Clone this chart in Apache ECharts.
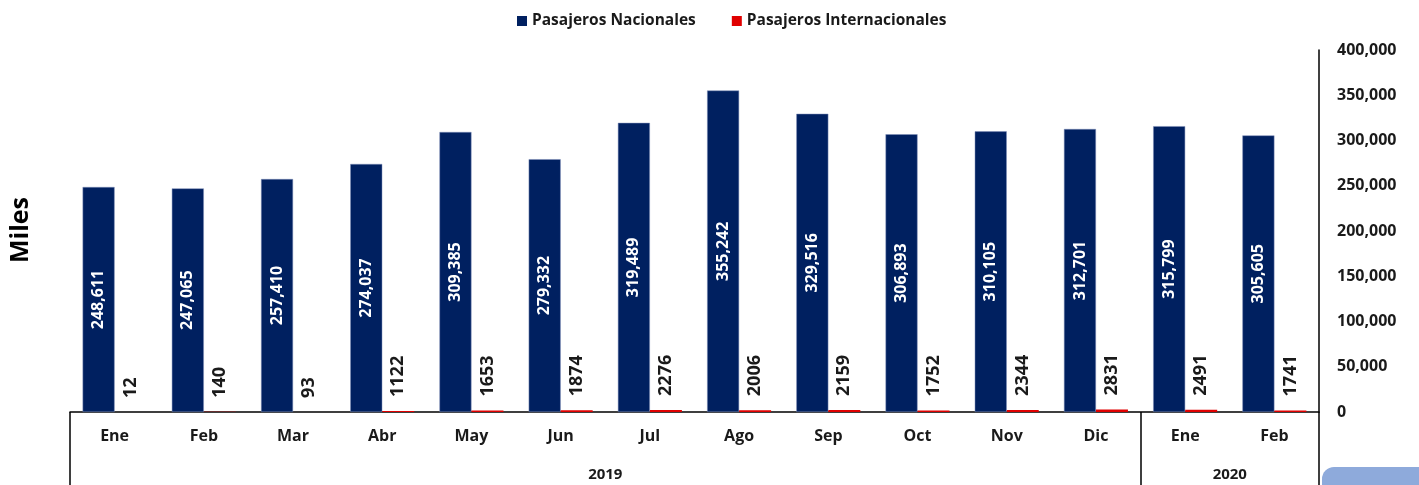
<!DOCTYPE html>
<html>
<head>
<meta charset="utf-8">
<script src="https://cdn.jsdelivr.net/npm/echarts@6/dist/echarts.min.js"></script>
<style>
html, body { margin: 0; padding: 0; background: #fff; }
#chart { width: 1419px; height: 485px; }
</style>
</head>
<body>
<div id="chart"></div>
<script>
// meses y valores
const meses = ['Ene', 'Feb', 'Mar', 'Abr', 'May', 'Jun', 'Jul', 'Ago', 'Sep', 'Oct', 'Nov', 'Dic', 'Ene', 'Feb'];
const nacionales = [248611, 247065, 257410, 274037, 309385, 279332, 319489, 355242, 329516, 306893, 310105, 312701, 315799, 305605];
const internacionales = [12, 140, 93, 1122, 1653, 1874, 2276, 2006, 2159, 1752, 2344, 2831, 2491, 1741];
// grupos de años: posición del centro (en meses) y límites
const anios = ['2019', '2020'];
const aniosCentro = [6, 13];
const aniosLimites = [0, 12, 14];

const fuente = '"Open Sans", Lato, sans-serif';
const negro = '#1a1a1a';

let myChart = echarts.init(document.getElementById('chart'));

let option = {
    animation: false,
    legend: {
        top: 8,
        left: 512,
        itemWidth: 10,
        itemHeight: 10,
        itemGap: 36,
        icon: 'rect',
        itemStyle: { borderWidth: 0 },
        textStyle: { fontFamily: fuente, fontWeight: 'bold', fontSize: 15.5, color: negro }
    },
    grid: { left: 70, right: 100, top: 50, bottom: 73, containLabel: false },
    xAxis: [
        {
            type: 'category',
            data: meses,
            axisLine: { show: true, lineStyle: { color: '#000', width: 1.5 } },
            axisTick: { show: false },
            axisLabel: { margin: 16, fontFamily: fuente, fontWeight: 'bold', fontSize: 16, color: negro }
        },
        {
            // eje auxiliar para los años
            type: 'value',
            min: 0,
            max: 14,
            position: 'bottom',
            axisLine: { show: false },
            splitLine: { show: false },
            axisTick: { show: true, customValues: aniosLimites, length: 75, lineStyle: { color: '#000', width: 1.5 } },
            axisLabel: {
                show: true,
                customValues: aniosCentro,
                margin: 55,
                fontFamily: fuente, fontWeight: 'bold', fontSize: 15, color: negro,
                formatter: (v) => anios[aniosCentro.indexOf(v)]
            }
        }
    ],
    yAxis: {
        type: 'value',
        position: 'right',
        min: 0,
        max: 400000,
        interval: 50000,
        splitLine: { show: false },
        axisTick: { show: false },
        axisLine: { show: true, onZero: false, lineStyle: { color: '#000', width: 1.5 } },
        axisLabel: {
            margin: 18,
            fontFamily: fuente, fontWeight: 'bold', fontSize: 16, color: negro,
            formatter: (v) => v.toLocaleString('en-US')
        }
    },
    series: [
        {
            name: 'Pasajeros Nacionales',
            type: 'bar',
            data: nacionales,
            barWidth: 32,
            barGap: '0%',
            itemStyle: { color: '#002060', borderColor: '#7f8fb8', borderWidth: 0.5 },
            label: {
                show: true,
                position: 'inside',
                rotate: 90,
                color: '#fff',
                fontFamily: fuente, fontWeight: 'bold', fontSize: 16,
                formatter: (p) => p.value.toLocaleString('en-US')
            }
        },
        {
            name: 'Pasajeros Internacionales',
            type: 'bar',
            data: internacionales,
            barWidth: 32,
            itemStyle: { color: '#e00000' },
            label: {
                show: true,
                position: 'top',
                rotate: 90,
                align: 'left',
                verticalAlign: 'middle',
                distance: 14,
                color: negro,
                fontFamily: fuente, fontWeight: 'bold', fontSize: 18
            }
        }
    ],
    graphic: [
        {
            type: 'text',
            left: 8,
            top: 197,
            rotation: Math.PI / 2,
            style: { text: 'Miles', fontFamily: fuente, fontWeight: 'bold', fontSize: 25, fill: '#000' }
        },
        {
            type: 'rect',
            right: 0,
            bottom: 0,
            shape: { width: 97, height: 18, r: [12, 0, 0, 0] },
            style: { fill: '#8eaadb' }
        }
    ]
};

myChart.setOption(option);
</script>
</body>
</html>
